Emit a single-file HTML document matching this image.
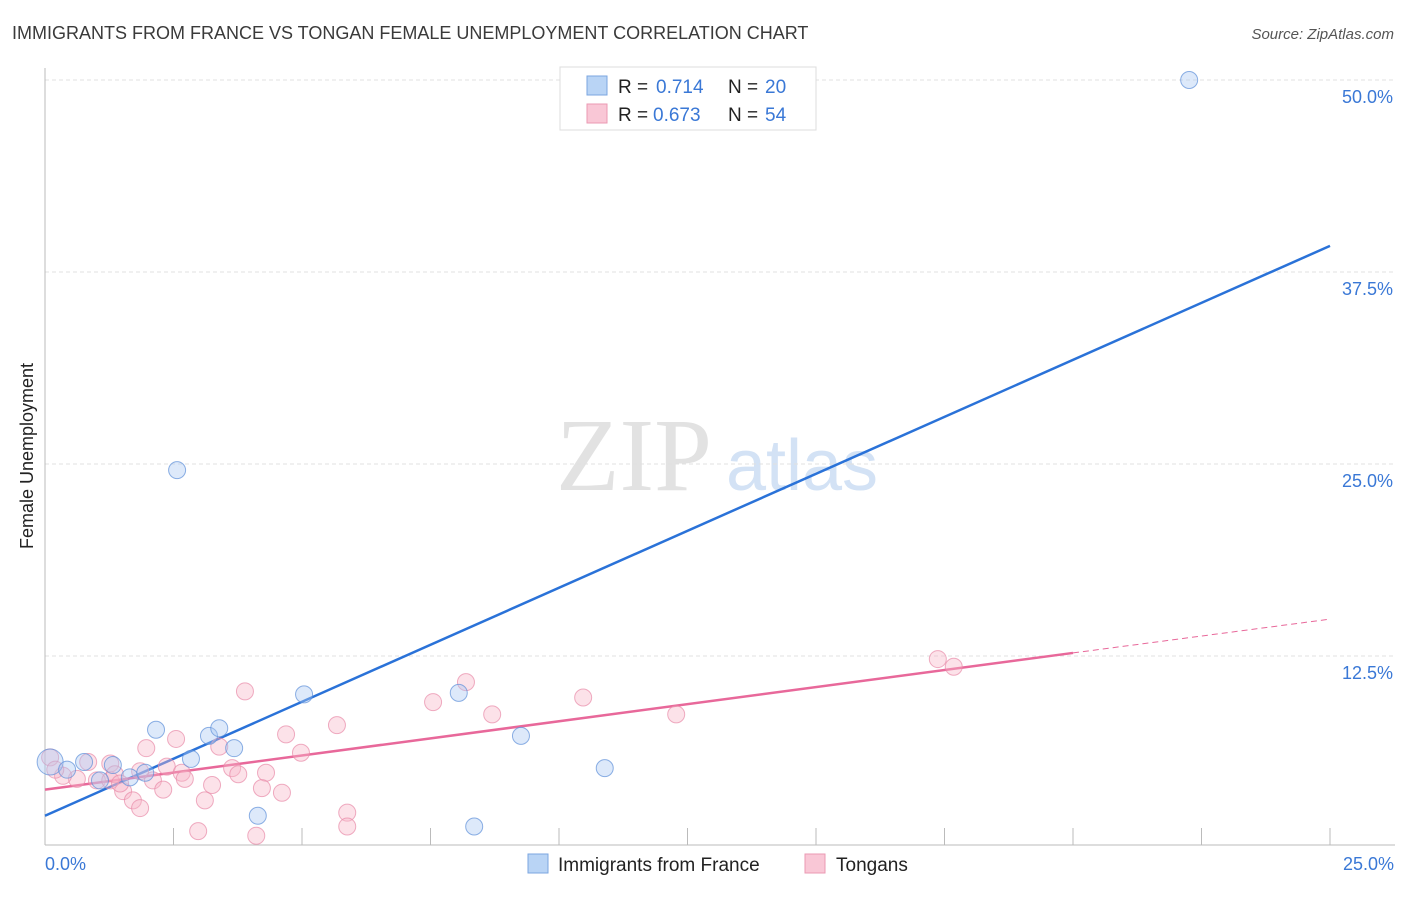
<!DOCTYPE html>
<html><head><meta charset="utf-8"><style>
body{margin:0;background:#fff;font-family:"Liberation Sans",sans-serif}
</style></head><body>
<svg width="1406" height="892" xmlns="http://www.w3.org/2000/svg" id="chart">
<text x="12" y="39" font-size="18" fill="#3a3a3a">IMMIGRANTS FROM FRANCE VS TONGAN FEMALE UNEMPLOYMENT CORRELATION CHART</text>
<text x="1394" y="39" font-size="15" fill="#555" font-style="italic" text-anchor="end">Source: ZipAtlas.com</text>
<g>
<text x="634" y="490" font-size="104" fill="#e2e2e2" font-family="Liberation Serif,serif" text-anchor="middle">ZIP</text>
<text x="802" y="490" font-size="72" fill="#d3e2f5" text-anchor="middle">atlas</text>
</g>
<g id="grid"></g>
<line x1="45" y1="68" x2="45" y2="845" stroke="#bbb"/>
<line x1="45" y1="845" x2="1395" y2="845" stroke="#bbb"/>
<text x="33" y="456" font-size="18" fill="#222" text-anchor="middle" transform="rotate(-90 33 456)">Female Unemployment</text>
<text x="45" y="870" font-size="18" fill="#3a78d6">0.0%</text>
<text x="1394" y="870" font-size="18" fill="#3a78d6" text-anchor="end">25.0%</text>
<g id="lines"></g>
<g id="pts"></g>
<g>
<rect x="560" y="67" width="256" height="63" fill="#fff" stroke="#ddd"/>
<rect x="587" y="76" width="20" height="19" fill="#b9d4f5" stroke="#7ba6e0"/>
<rect x="587" y="104" width="20" height="19" fill="#f9c7d6" stroke="#eb9ab3"/>
<text x="618" y="93" font-size="19" fill="#222">R =</text>
<text x="656" y="93" font-size="19" fill="#3a78d6">0.714</text>
<text x="728" y="93" font-size="19" fill="#222">N =</text>
<text x="765" y="93" font-size="19" fill="#3a78d6">20</text>
<text x="618" y="121" font-size="19" fill="#222">R =</text>
<text x="653" y="121" font-size="19" fill="#3a78d6">0.673</text>
<text x="728" y="121" font-size="19" fill="#222">N =</text>
<text x="765" y="121" font-size="19" fill="#3a78d6">54</text>
</g>
<g>
<rect x="528" y="854" width="20" height="19" fill="#b9d4f5" stroke="#7ba6e0"/>
<text x="558" y="871" font-size="19" fill="#222">Immigrants from France</text>
<rect x="805" y="854" width="20" height="19" fill="#f9c7d6" stroke="#eb9ab3"/>
<text x="836" y="871" font-size="19" fill="#222">Tongans</text>
</g>
</svg>
<script>
const yTicks=[12.5,25,37.5,50];
const xTickVals=[2.5,5,7.5,10,12.5,15,17.5,20,22.5,25];
const blueX=[0.1,0.43,0.76,1.07,1.32,1.65,1.95,2.16,2.57,2.84,3.19,3.39,3.68,4.14,5.04,8.05,8.35,9.26,10.89,22.26];
const blueY=[5.6,5.1,5.6,4.4,5.4,4.6,4.9,7.7,24.6,5.8,7.3,7.8,6.5,2.1,10.0,10.1,1.4,7.3,5.2,50.0];
const pinkX=[3.89,5.68,4.69,2.55,1.97,3.39,4.98,0.1,0.84,1.27,2.37,2.66,3.64,3.76,4.3,2.72,2.1,0.62,0.35,3.25,2.3,4.22,4.61,1.52,1.71,1.85,3.11,2.98,4.11,5.88,5.88,1.01,1.27,7.55,8.19,8.7,10.47,12.28,17.37,17.68,0.2,1.36,1.46,1.85];
const pinkY=[10.2,8.0,7.4,7.1,6.5,6.6,6.2,5.9,5.6,5.5,5.3,4.9,5.2,4.8,4.9,4.5,4.4,4.5,4.7,4.1,3.8,3.9,3.6,3.7,3.1,2.6,3.1,1.1,0.8,2.3,1.4,4.4,4.4,9.5,10.8,8.7,9.8,8.7,12.3,11.8,5.1,4.8,4.2,5.0];
const blueLine=[0,2.1,25,39.2];
const pinkLine=[0,3.8,20,12.7,25,14.9];
const X=v=>45+v*51.4, Y=v=>848-v*15.36;
const NS="http://www.w3.org/2000/svg";
const g=document.getElementById('grid');
yTicks.forEach(t=>{
 const l=document.createElementNS(NS,'line');
 l.setAttribute('x1',45);l.setAttribute('x2',1395);l.setAttribute('y1',Y(t));l.setAttribute('y2',Y(t));
 l.setAttribute('stroke','#e0e0e0');l.setAttribute('stroke-dasharray','4 3');
 
 
 g.appendChild(l);
 const tx=document.createElementNS(NS,'text');
 tx.setAttribute('x',1393);tx.setAttribute('y',Y(t)+23);tx.setAttribute('text-anchor','end');
 tx.setAttribute('font-size','18');tx.setAttribute('fill','#3a78d6');tx.textContent=t.toFixed(1)+'%';
 
 
 g.appendChild(tx);
});
xTickVals.forEach(t=>{
 const l=document.createElementNS(NS,'line');
 l.setAttribute('x1',X(t));l.setAttribute('x2',X(t));l.setAttribute('y1',828);l.setAttribute('y2',845);
 l.setAttribute('stroke','#bbb');
 
 
 g.appendChild(l);
});
const lg=document.getElementById('lines');
function ln(x1,y1,x2,y2,c,d,name){
 const l=document.createElementNS(NS,'line');
 l.setAttribute('x1',X(x1));l.setAttribute('y1',Y(y1));l.setAttribute('x2',X(x2));l.setAttribute('y2',Y(y2));
 l.setAttribute('stroke',c);l.setAttribute('stroke-width',d?1:2.5);if(d)l.setAttribute('stroke-dasharray','6 4');
 
 
 lg.appendChild(l);
}
const pg=document.getElementById('pts');
function pt(x,y,f,s,name,r){
 const c=document.createElementNS(NS,'circle');
 c.setAttribute('cx',X(x));c.setAttribute('cy',Y(y));c.setAttribute('r',r||8.5);
 c.setAttribute('fill',f);c.setAttribute('stroke',s);c.setAttribute('fill-opacity','0.4');c.setAttribute('stroke-opacity','0.7');
 
 
 pg.appendChild(c);
}
pinkX.forEach((x,i)=>pt(x,pinkY[i],'#f7b6c9','#e88aa8','tongan-point'));
blueX.forEach((x,i)=>pt(x,blueY[i],'#a9c9f2','#5d8fd8','france-point',i==0?13:8.5));
ln(blueLine[0],blueLine[1],blueLine[2],blueLine[3],'#2a72d8',false,'france-trend-line');
ln(pinkLine[0],pinkLine[1],pinkLine[2],pinkLine[3],'#e8689a',false,'tongan-trend-line');
ln(pinkLine[2],pinkLine[3],pinkLine[4],pinkLine[5],'#e8689a',true,'tongan-trend-extension');
</script>
</body></html>
